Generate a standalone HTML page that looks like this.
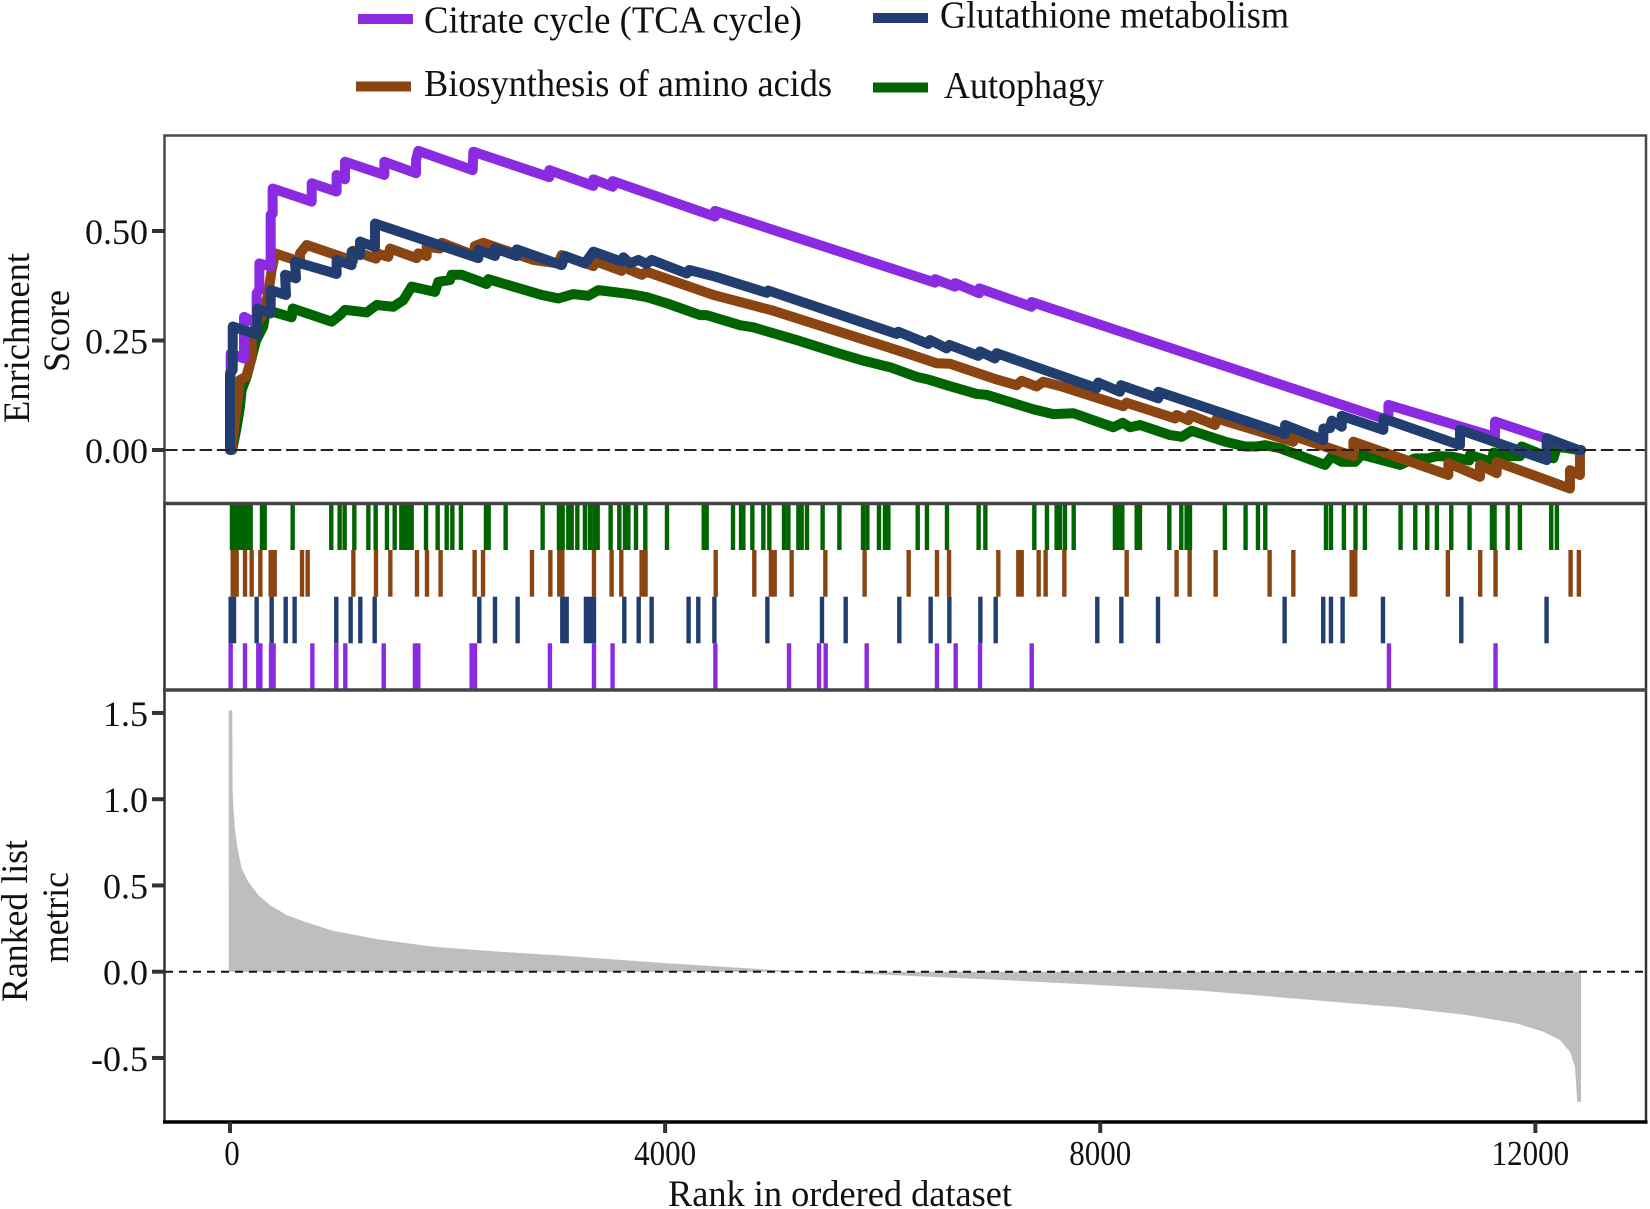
<!DOCTYPE html>
<html lang="en">
<head>
<meta charset="utf-8">
<title>GSEA enrichment plot</title>
<style>
  html, body { margin: 0; padding: 0; background: #fff; }
  svg { display: block; }
  text { font-family: "Liberation Serif", "Times New Roman", serif; fill: #111; }
</style>
</head>
<body>
<svg id="chart" xmlns="http://www.w3.org/2000/svg" width="1650" height="1209" viewBox="0 0 1650 1209">
  <rect x="0" y="0" width="1650" height="1209" fill="#ffffff"/>

  <g id="metric-layer"></g>
  <g id="curve-layer"></g>
  <g id="hit-layer"></g>

  <line x1="165" y1="450" x2="1646" y2="450" stroke="#222" stroke-width="2" stroke-dasharray="12.5 4.8"/>
  <line x1="165" y1="971.7" x2="1646" y2="971.7" stroke="#111" stroke-width="2" stroke-dasharray="8 6"/>

  <rect x="164.5" y="135.5" width="1481.5" height="368" fill="none" stroke="#4a4a4a" stroke-width="2.5"/>
  <line x1="164.5" y1="503" x2="164.5" y2="1122" stroke="#333" stroke-width="2.5"/>
  <line x1="1646" y1="503" x2="1646" y2="1122" stroke="#333" stroke-width="2.5"/>
  <line x1="163" y1="503.5" x2="1647" y2="503.5" stroke="#444" stroke-width="3.5"/>
  <line x1="163" y1="690" x2="1647" y2="690" stroke="#444" stroke-width="3.5"/>
  <line x1="163" y1="1122" x2="1647.5" y2="1122" stroke="#000" stroke-width="3.5"/>

  <g id="axis-layer"></g>

  <text transform="translate(29,423) rotate(-90)" font-size="37" textLength="170" lengthAdjust="spacingAndGlyphs">Enrichment</text>
  <text transform="translate(69,372) rotate(-90)" font-size="37" textLength="82" lengthAdjust="spacingAndGlyphs">Score</text>
  <text transform="translate(27,1002) rotate(-90)" font-size="37" textLength="162" lengthAdjust="spacingAndGlyphs">Ranked list</text>
  <text transform="translate(68,963) rotate(-90)" font-size="37" textLength="91" lengthAdjust="spacingAndGlyphs">metric</text>
  <text x="668" y="1206" font-size="37" textLength="344" lengthAdjust="spacingAndGlyphs">Rank in ordered dataset</text>

  <g>
    <rect x="358" y="14" width="55" height="10" fill="#8a2be2"/>
    <text x="424" y="32.5" font-size="38" textLength="378" lengthAdjust="spacingAndGlyphs">Citrate cycle (TCA cycle)</text>
    <rect x="873" y="13" width="55" height="10" fill="#223d70"/>
    <text x="940" y="27.5" font-size="38" textLength="349" lengthAdjust="spacingAndGlyphs">Glutathione metabolism</text>
    <rect x="356" y="81.5" width="55" height="10" fill="#8b4513"/>
    <text x="424" y="96" font-size="38" textLength="408" lengthAdjust="spacingAndGlyphs">Biosynthesis of amino acids</text>
    <rect x="873" y="82.5" width="55" height="10" fill="#006400"/>
    <text x="944" y="98" font-size="38" textLength="160" lengthAdjust="spacingAndGlyphs">Autophagy</text>
  </g>
</svg>

<script>
// ---- Axis tick data ----
const rankTicks = [0, 4000, 8000, 12000];
const rankTickLabels = ["0", "4000", "8000", "12000"];
const scoreTicks = [0, 0.25, 0.5];
const scoreTickLabels = ["0.00", "0.25", "0.50"];
const metricTicks = [-0.5, 0, 0.5, 1, 1.5];
const metricTickLabels = ["-0.5", "0.0", "0.5", "1.0", "1.5"];

// ---- Running enrichment score: Citrate cycle (TCA cycle) ----
const citrateRanks = [0,6,6,129,129,245,245,270,270,374,374,392,392,751,751,980,980,1057,1057,1419,1419,1710,1710,1731,2231,2237,2935,2935,3340,3340,3518,3518,4458,4458,6481,6481,6665,6665,6888,6888,7369,7369,10649,10649,11629,11629,12089,12395,12420];
const citrateScores = [0,0.10,0.22,0.209,0.304,0.289,0.358,0.365,0.426,0.419,0.537,0.54,0.597,0.567,0.609,0.59,0.628,0.618,0.658,0.628,0.658,0.632,0.662,0.683,0.639,0.681,0.623,0.639,0.603,0.618,0.601,0.614,0.533,0.546,0.382,0.39,0.373,0.381,0.358,0.369,0.327,0.338,0.068,0.103,0.03,0.065,0.027,0,0];

// ---- Running enrichment score: Glutathione metabolism ----
const glutathioneRanks = [0,0,25,25,251,251,374,374,515,506,607,597,980,980,1118,1118,1195,1195,1333,1333,2283,2283,2436,2436,2635,2635,3049,3079,3263,3340,3600,3616,3677,3754,3830,3876,4198,4222,4458,4933,4949,6128,6144,6419,6435,6588,6612,6879,6894,7032,7047,7967,7982,8181,8190,8534,8534,9699,9699,10051,10051,10112,10128,10220,10220,10603,10603,11307,11307,12104,12104,12395,12420];
const glutathioneScores = [0,0.175,0.183,0.282,0.263,0.323,0.312,0.365,0.354,0.40,0.392,0.43,0.402,0.434,0.422,0.453,0.445,0.476,0.463,0.517,0.438,0.457,0.443,0.46,0.443,0.458,0.422,0.443,0.426,0.453,0.43,0.44,0.426,0.434,0.425,0.434,0.403,0.411,0.396,0.359,0.364,0.265,0.27,0.242,0.251,0.232,0.24,0.215,0.225,0.209,0.221,0.141,0.154,0.133,0.148,0.118,0.133,0.0365,0.057,0.023,0.049,0.05,0.067,0.053,0.078,0.046,0.072,0.011,0.046,-0.023,0.027,0,0];

// ---- Running enrichment score: Biosynthesis of amino acids ----
const biosynthesisRanks = [15,46,92,147,199,199,306,352,383,414,643,643,705,1131,1131,1342,1348,1455,1471,1716,1731,1808,1808,1930,1946,2237,2252,2329,2788,3018,3049,3340,3370,3600,3616,3677,3784,3830,4443,4780,4994,6220,6496,6618,7047,7231,7277,7415,7476,7660,8212,8242,8688,8703,8810,8826,9055,9071,9775,9775,10327,10327,11200,11200,11491,11491,11644,11644,12318,12318,12410,12410];
const biosynthesisScores = [0,0.068,0.16,0.167,0.209,0.266,0.312,0.358,0.411,0.449,0.43,0.449,0.468,0.432,0.455,0.437,0.449,0.441,0.46,0.438,0.449,0.443,0.464,0.46,0.473,0.445,0.466,0.473,0.434,0.426,0.445,0.42,0.43,0.409,0.419,0.411,0.40,0.407,0.354,0.332,0.318,0.221,0.198,0.197,0.161,0.148,0.158,0.145,0.156,0.144,0.10,0.108,0.072,0.08,0.068,0.08,0.057,0.072,0.019,0.032,-0.014,0.019,-0.057,-0.03,-0.061,-0.034,-0.053,-0.027,-0.088,-0.046,-0.057,-0.002];

// ---- Running enrichment score: Autophagy ----
const autophagyRanks = [20,60,92,107,153,240,306,331,567,576,934,1011,1057,1256,1348,1501,1593,1670,1885,1915,2022,2037,2130,2359,2375,2865,3018,3156,3294,3386,3677,3830,4014,4320,4382,4688,4811,5209,5577,5822,6067,6312,6419,6588,6864,6955,7384,7568,7752,8120,8206,8274,8366,8642,8749,8841,9147,9331,9438,9515,9653,10066,10128,10220,10343,10404,10756,10894,11016,11093,11231,11393,11399,11598,11614,11752,11859,11874,12104,12166,12198,12395];
const autophagyScores = [0,0.05,0.099,0.137,0.167,0.25,0.282,0.32,0.303,0.323,0.293,0.308,0.32,0.314,0.331,0.327,0.342,0.373,0.361,0.384,0.388,0.40,0.40,0.379,0.39,0.354,0.346,0.356,0.352,0.365,0.356,0.349,0.335,0.308,0.308,0.285,0.28,0.251,0.222,0.204,0.189,0.167,0.161,0.148,0.128,0.126,0.093,0.082,0.084,0.052,0.062,0.052,0.057,0.034,0.03,0.044,0.019,0.008,0.008,0.011,0.004,-0.034,-0.015,-0.027,-0.027,-0.011,-0.034,-0.019,-0.019,-0.014,-0.015,-0.024,-0.011,-0.027,-0.006,-0.014,-0.014,0.008,-0.015,-0.019,0.008,0];

// ---- Gene hit positions (rank) ----
const autophagyHits = [18,55,92,129,165,190,294,319,576,931,1008,1054,1143,1272,1339,1443,1514,1575,1609,1639,1670,1802,1909,1992,2044,2123,2353,2378,2534,2874,3024,3058,3110,3141,3193,3263,3309,3349,3380,3499,3579,3631,3662,3732,3818,4017,4355,4382,4624,4698,4719,4802,4903,4958,5093,5133,5225,5255,5304,5448,5602,5819,5859,5966,6021,6052,6322,6407,6591,6882,6944,7394,7510,7599,7630,7676,7756,8135,8166,8203,8335,8365,8635,8745,8794,8825,9146,9336,9450,9517,10075,10121,10240,10347,10433,10761,10896,11006,11095,11227,11395,11601,11625,11745,11858,12146,12198];
const biosynthesisHits = [25,61,138,199,279,374,411,662,714,1134,1342,1474,1719,1811,1936,2249,2326,2776,2945,3027,3055,3346,3508,3597,3784,3820,4465,4820,4973,5007,5163,5473,5834,6239,6499,6610,7063,7247,7278,7434,7498,7670,8243,8702,8822,9061,9557,9775,10311,10344,11196,11493,11634,12324,12400];
const glutathioneHits = [6,37,245,383,512,594,977,1109,1198,1330,2292,2436,2644,3055,3095,3272,3309,3346,3625,3757,3876,4216,4305,4453,4940,5442,5660,6153,6441,6613,6898,7039,7973,8194,8531,9695,10050,10121,10228,10599,11319,12103];
const citrateHits = [6,138,260,279,377,401,757,977,1060,1413,1700,1731,2221,2252,2941,3346,3517,4462,5139,5415,5476,5853,6499,6671,6895,7370,10654,11634];

// ---- Ranked list metric (rank, value) ----
const metricRanks = [-12,21,24,31,46,67,107,169,260,368,521,705,950,1348,1869,2482,3000,4000,5000,5500,5800,7000,8000,8917,9836,10755,11368,11828,12073,12226,12318,12364,12385,12420];
const metricValues = [1.515,1.515,1.052,0.956,0.82,0.724,0.598,0.521,0.444,0.386,0.328,0.286,0.237,0.189,0.145,0.116,0.095,0.05,0.01,-0.002,-0.012,-0.045,-0.078,-0.11,-0.158,-0.207,-0.251,-0.30,-0.348,-0.396,-0.464,-0.551,-0.754,-0.754];

// ---- Axis functions ----
function xRank(r) { return 230 + r * 0.10878; }
function yScore(s) { return 450 - s * 438; }
function yMetric(v) { return 971.7 - v * 172.5; }

const SVGNS = "http://www.w3.org/2000/svg";
function make(tag, attrs, parent) {
  const el = document.createElementNS(SVGNS, tag);
  for (const k in attrs) el.setAttribute(k, attrs[k]);
  parent.appendChild(el);
  return el;
}
const metricLayer = document.getElementById("metric-layer");
const curveLayer = document.getElementById("curve-layer");
const hitLayer = document.getElementById("hit-layer");
const axisLayer = document.getElementById("axis-layer");

// Metric area
let metricPath = "M" + xRank(metricRanks[0]) + " " + yMetric(0);
metricRanks.forEach(function (r, i) {
  metricPath += "L" + xRank(r).toFixed(2) + " " + yMetric(metricValues[i]).toFixed(2);
});
metricPath += "L" + xRank(metricRanks[metricRanks.length - 1]).toFixed(2) + " " + yMetric(0) + "Z";
const metricArea = make("path", { d: metricPath, fill: "#bebebe" }, metricLayer);



// Curves
function drawCurve(ranks, scores, colour) {
  const pts = ranks.map(function (r, i) {
    return xRank(r).toFixed(2) + "," + yScore(scores[i]).toFixed(2);
  }).join(" ");
  return make("polyline", {
    points: pts, fill: "none", stroke: colour, "stroke-width": 10,
    "stroke-linejoin": "round", "stroke-linecap": "round"
  }, curveLayer);
}
const autophagyCurve = drawCurve(autophagyRanks, autophagyScores, "#006400");


const biosynthesisCurve = drawCurve(biosynthesisRanks, biosynthesisScores, "#8b4513");


const citrateCurve = drawCurve(citrateRanks, citrateScores, "#8a2be2");


const glutathioneCurve = drawCurve(glutathioneRanks, glutathioneScores, "#223d70");



// Hit ticks
function drawHits(hits, rowTop, rowBottom, colour, name) {
  hits.forEach(function (r) {
    const tick = make("rect", {
      x: (xRank(r) - 2.2).toFixed(2), y: rowTop, width: 4.4, height: rowBottom - rowTop, fill: colour
    }, hitLayer);
    
    
  });
}
drawHits(autophagyHits, 504, 550, "#006400", "hit-autophagy");
drawHits(biosynthesisHits, 550, 596.7, "#8b4513", "hit-biosynthesis");
drawHits(glutathioneHits, 596.7, 643.3, "#223d70", "hit-glutathione");
drawHits(citrateHits, 643.3, 690, "#8a2be2", "hit-citrate");

// X axis ticks
rankTicks.forEach(function (t, i) {
  const mark = make("line", {
    x1: xRank(t), y1: 1122, x2: xRank(t), y2: 1133, stroke: "#333", "stroke-width": 4
  }, axisLayer);
  
  
  const label = make("text", {
    x: xRank(t) - (i === 3 ? 5 : 0) + (i === 0 ? 2 : 0), y: 1165, "font-size": 35, "text-anchor": "middle",
    textLength: 15.5 * rankTickLabels[i].length, lengthAdjust: "spacingAndGlyphs"
  }, axisLayer);
  label.textContent = rankTickLabels[i];
  
  
});

// Y axis ticks: score panel
scoreTicks.forEach(function (t, i) {
  const mark = make("line", {
    x1: 152, y1: yScore(t), x2: 165, y2: yScore(t), stroke: "#333", "stroke-width": 4
  }, axisLayer);
  
  
  const label = make("text", {
    x: 148, y: yScore(t) + 13, "font-size": 36, "text-anchor": "end"
  }, axisLayer);
  label.textContent = scoreTickLabels[i];
  
  
});

// Y axis ticks: metric panel
metricTicks.forEach(function (t, i) {
  const mark = make("line", {
    x1: 152, y1: yMetric(t), x2: 165, y2: yMetric(t), stroke: "#333", "stroke-width": 4
  }, axisLayer);
  
  
  const label = make("text", {
    x: 148, y: yMetric(t) + 13, "font-size": 36, "text-anchor": "end"
  }, axisLayer);
  label.textContent = metricTickLabels[i];
  
  
});
</script>
</body>
</html>
